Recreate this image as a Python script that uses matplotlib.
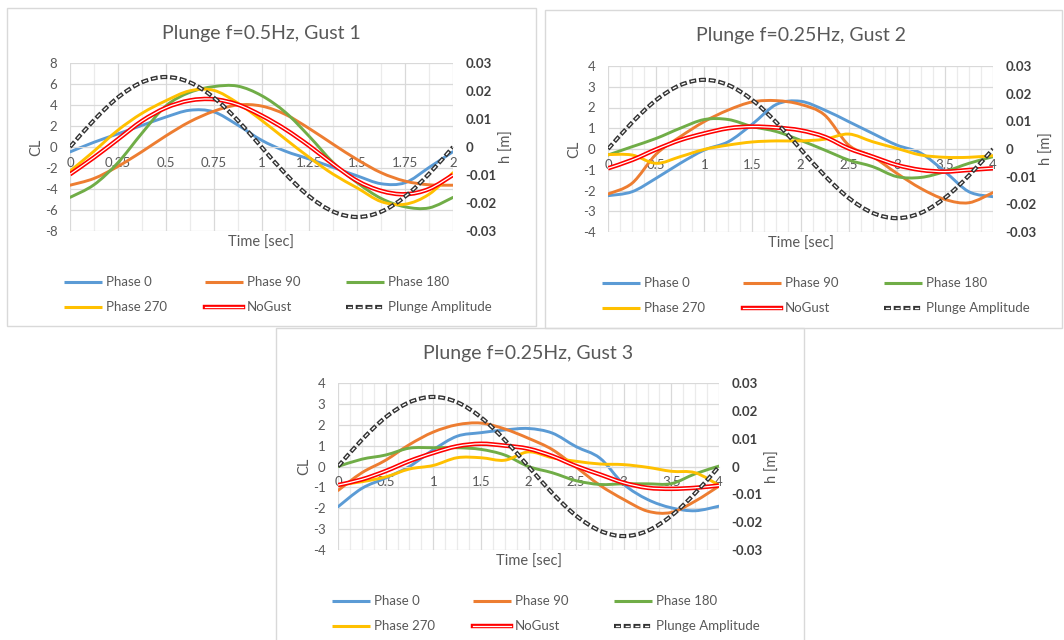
import numpy as np
import matplotlib
matplotlib.use('Agg')
import matplotlib.pyplot as plt
from matplotlib.path import Path
from matplotlib.patches import PathPatch, Rectangle
from matplotlib.lines import Line2D

plt.rcParams['font.family'] = ['Lato', 'DejaVu Sans']
plt.rcParams['lines.scale_dashes'] = False

W, H = 1064, 640

series_noms = ['Phase 0', 'Phase 90', 'Phase 180', 'Phase 270', 'NoGust', 'Plunge Amplitude']

# Gust 1 : pas de 0.125 s
t_g1 = [0, 0.125, 0.25, 0.375, 0.5, 0.625, 0.75, 0.875, 1.0,
        1.125, 1.25, 1.375, 1.5, 1.625, 1.75, 1.875, 2.0]
g1_phase0 = [-0.47, 0.45, 1.25, 2.05, 2.85, 3.5, 3.35, 2.1, 0.65, -0.4, -1.15, -1.95, -2.75, -3.5, -3.4, -1.95, -0.44]
g1_phase90 = [-3.64, -3.0, -1.85, -0.45, 1.05, 2.4, 3.4, 4.0, 3.9, 3.1, 1.75, 0.25, -1.2, -2.45, -3.25, -3.6, -3.64]
g1_phase180 = [-4.8, -3.6, -1.5, 1.3, 3.9, 5.2, 5.75, 5.8, 4.9, 3.3, 1.0, -1.5, -3.4, -4.9, -5.7, -5.8, -4.8]
g1_phase270 = [-2.3, -0.4, 1.6, 3.2, 4.4, 5.35, 5.4, 4.2, 2.55, 0.75, -1.0, -2.6, -3.9, -5.2, -5.45, -4.5, -2.45]
g1_nogust = [-2.6, -1.0, 0.73, 2.47, 3.73, 4.43, 4.55, 4.05, 3.0, 1.68, 0.1, -1.65, -3.23, -4.18, -4.5, -4.0, -2.66]
g1_plunge = [0, 0.00957, 0.01768, 0.0231, 0.025, 0.0231, 0.01768, 0.00957, 0,
             -0.00957, -0.01768, -0.0231, -0.025, -0.0231, -0.01768, -0.00957, 0]

# Gust 2 et 3 : pas de 0.25 s
t_g23 = [0, 0.25, 0.5, 0.75, 1.0, 1.25, 1.5, 1.75, 2.0,
         2.25, 2.5, 2.75, 3.0, 3.25, 3.5, 3.75, 4.0]
g2_phase0 = [-2.25, -2.06, -1.41, -0.69, -0.05, 0.35, 1.2, 2.15, 2.3, 1.88, 1.32, 0.75, 0.19, -0.2, -1.09, -2.06, -2.3]
g2_phase90 = [-2.17, -1.65, -0.25, 0.59, 1.32, 1.88, 2.27, 2.33, 2.15, 1.64, 0.19, -0.37, -1.17, -1.9, -2.43, -2.59, -2.1]
g2_phase180 = [-0.29, 0.11, 0.51, 1.0, 1.42, 1.42, 1.08, 0.84, 0.42, -0.05, -0.53, -0.85, -1.33, -1.37, -1.09, -0.69, -0.37]
g2_phase270 = [-0.27, -0.29, -0.69, -0.37, -0.02, 0.19, 0.34, 0.39, 0.39, 0.47, 0.72, 0.35, 0.03, -0.29, -0.4, -0.4, -0.32]
g2_nogust = [-0.93, -0.53, -0.02, 0.43, 0.75, 1.0, 1.08, 1.03, 0.9, 0.59, 0.03, -0.37, -0.77, -1.01, -1.09, -1.01, -0.93]
g2_plunge = [0, 0.00957, 0.01768, 0.0231, 0.025, 0.0231, 0.01768, 0.00957, 0,
             -0.00957, -0.01768, -0.0231, -0.025, -0.0231, -0.01768, -0.00957, 0]

g3_phase0 = [-1.93, -1.05, -0.55, 0.0, 0.8, 1.45, 1.62, 1.75, 1.82, 1.6, 0.95, 0.4, -0.85, -1.58, -1.98, -2.12, -1.9]
g3_phase90 = [-1.15, -0.3, 0.3, 1.05, 1.65, 2.0, 2.08, 1.8, 1.35, 0.81, -0.03, -0.9, -1.58, -2.14, -2.2, -1.66, -0.94]
g3_phase180 = [0.0, 0.35, 0.55, 0.88, 0.9, 0.9, 0.82, 0.55, 0.0, -0.3, -0.68, -0.86, -0.83, -0.83, -0.82, -0.35, 0.02]
g3_phase270 = [-0.89, -0.73, -0.5, -0.12, 0.05, 0.42, 0.42, 0.3, 0.7, 0.42, 0.25, 0.12, 0.09, -0.04, -0.23, -0.3, -0.9]
g3_nogust = [-0.89, -0.62, -0.22, 0.26, 0.65, 0.97, 1.09, 1.0, 0.85, 0.5, 0.02, -0.38, -0.78, -1.02, -1.07, -1.02, -0.91]
g3_plunge = [0, 0.00957, 0.01768, 0.0231, 0.025, 0.0231, 0.01768, 0.00957, 0,
             -0.00957, -0.01768, -0.0231, -0.025, -0.0231, -0.01768, -0.00957, 0]

x_ticks_g1 = [0, 0.25, 0.5, 0.75, 1, 1.25, 1.5, 1.75, 2]
x_labels_g1 = ['0', '0.25', '0.5', '0.75', '1', '1.25', '1.5', '1.75', '2']
x_ticks_g23 = [0, 0.5, 1, 1.5, 2, 2.5, 3, 3.5, 4]
x_labels_g23 = ['0', '0.5', '1', '1.5', '2', '2.5', '3', '3.5', '4']
y_ticks_g1 = [-8, -6, -4, -2, 0, 2, 4, 6, 8]
y_ticks_g23 = [-4, -3, -2, -1, 0, 1, 2, 3, 4]
h_ticks = [-0.03, -0.02, -0.01, 0, 0.01, 0.02, 0.03]
h_labels = ['-0.03', '-0.02', '-0.01', '0', '0.01', '0.02', '0.03']

couleurs = ['#5B9BD5', '#ED7D31', '#70AD47', '#FFC000']
gris_texte = '#595959'
gris_grille = '#D9D9D9'

fig = plt.figure(figsize=(W / 100, H / 100), dpi=100)


def pos_px(x, y):
    return x / W, 1 - y / H


def courbe_lisse(x, y):
    # courbe lissee a la maniere d'Excel (Catmull-Rom -> Bezier)
    pts = np.column_stack([x, y]).astype(float)
    n = len(pts)
    verts = [pts[0]]
    codes = [Path.MOVETO]
    for i in range(n - 1):
        p0 = pts[max(i - 1, 0)]
        p1 = pts[i]
        p2 = pts[i + 1]
        p3 = pts[min(i + 2, n - 1)]
        verts += [p1 + (p2 - p0) / 6, p2 - (p3 - p1) / 6, p2]
        codes += [Path.CURVE4] * 3
    return Path(verts, codes)


def cadre(x0, y0, x1, y1):
    fx, fy = pos_px(x0, y1)
    fig.patches.append(Rectangle((fx, fy), (x1 - x0) / W, (y1 - y0) / H, transform=fig.transFigure,
                                 fill=False, edgecolor=gris_grille, lw=1, zorder=0))


def ligne_legende(x0, x1, y, style):
    fx0, fy = pos_px(x0, y)
    fx1, _ = pos_px(x1, y)
    if style == 'double':
        fig.add_artist(Line2D([fx0, fx1], [fy, fy], color='#FF0000', lw=3.2, transform=fig.transFigure))
        fig.add_artist(Line2D([fx0, fx1], [fy, fy], color='white', lw=0.9, transform=fig.transFigure))
    elif style == 'tirets':
        fig.add_artist(Line2D([fx0, fx1], [fy, fy], color='#333333', lw=3, transform=fig.transFigure,
                              linestyle=(0, (5, 2)), dash_capstyle='butt'))
        fig.add_artist(Line2D([fx0, fx1], [fy, fy], color='white', lw=1, transform=fig.transFigure,
                              linestyle=(6, (3, 4)), dash_capstyle='butt'))
    else:
        fig.add_artist(Line2D([fx0, fx1], [fy, fy], color=style, lw=2.2, transform=fig.transFigure,
                              solid_capstyle='butt'))


def panneau(rect, titre, t, cl_series, plunge, xlim, ylim, xticks, xlabels, yticks, x_minor):
    x0, y0, x1, y1 = rect
    ax = fig.add_axes([x0 / W, 1 - y1 / H, (x1 - x0) / W, (y1 - y0) / H])
    ax.set_xlim(*xlim)
    ax.set_ylim(*ylim)
    ax.set_xticks(xticks)
    ax.set_xticklabels(xlabels)
    ax.set_xticks(np.arange(xlim[0], xlim[1] + 1e-9, x_minor), minor=True)
    ax.set_yticks(yticks)
    ax.set_yticklabels([str(v) for v in yticks])
    ax.grid(True, which='major', color=gris_grille, lw=0.9)
    ax.grid(True, which='minor', axis='x', color='#EBEBEB', lw=0.9)
    ax.set_axisbelow(True)
    for s in ['top', 'left', 'right']:
        ax.spines[s].set_visible(False)
    ax.spines['bottom'].set_position(('data', 0))
    ax.spines['bottom'].set_color(gris_grille)
    ax.tick_params(axis='both', which='both', length=0, labelsize=9.5, labelcolor=gris_texte)
    ax.tick_params(axis='x', pad=7)
    ax.tick_params(axis='y', pad=9)

    for i, y in enumerate(cl_series[:4]):
        ax.add_patch(PathPatch(courbe_lisse(t, y), fill=False, edgecolor=couleurs[i], lw=2.1,
                               capstyle='round', joinstyle='round', zorder=2 + i))
    chemin_ng = courbe_lisse(t, cl_series[4])
    ax.add_patch(PathPatch(chemin_ng, fill=False, edgecolor='#FF0000', lw=3.2, zorder=7))
    ax.add_patch(PathPatch(chemin_ng, fill=False, edgecolor='white', lw=0.9, zorder=8))

    ax2 = ax.twinx()
    ax2.set_ylim(-0.03, 0.03)
    ax2.set_yticks(h_ticks)
    ax2.set_yticklabels(h_labels)
    for s in ax2.spines.values():
        s.set_visible(False)
    ax2.tick_params(axis='y', length=0, labelsize=9.5, labelcolor='#404040', pad=9)
    for lab in ax2.get_yticklabels():
        lab.set_fontweight('bold')
    chemin_h = courbe_lisse(t, plunge)
    ax2.add_patch(PathPatch(chemin_h, fill=False, edgecolor='#333333', lw=3,
                            linestyle=(0, (5, 2)), capstyle='butt'))
    ax2.add_patch(PathPatch(chemin_h, fill=False, edgecolor='white', lw=1,
                            linestyle=(6, (3, 4)), capstyle='butt'))

    # textes
    cx = (x0 + x1) / 2
    fx, fy = pos_px(cx, y0 - 30)
    fig.text(fx, fy, titre, ha='center', va='center', fontsize=14, color=gris_texte)
    fx, fy = pos_px(cx, y1 + 12)
    fig.text(fx, fy, 'Time [sec]', ha='center', va='center', fontsize=10.5, color=gris_texte)
    fx, fy = pos_px(x0 - 34, (y0 + y1) / 2)
    fig.text(fx, fy, 'CL', ha='center', va='center', rotation=90, fontsize=10.5, color=gris_texte)
    fx, fy = pos_px(x1 + 54, (y0 + y1) / 2)
    fig.text(fx, fy, 'h [m]', ha='center', va='center', rotation=90, fontsize=10.5, color=gris_texte)

    # legende sur deux lignes
    styles = couleurs + ['double', 'tirets']
    for k, nom in enumerate(series_noms):
        ligne = k // 3
        col = k % 3
        lx = x0 - 6 + col * 141
        ly = y1 + 51 + ligne * 25
        ligne_legende(lx, lx + 38, ly, styles[k])
        fx, fy = pos_px(lx + 42, ly)
        fig.text(fx, fy, nom, ha='left', va='center', fontsize=9.5, color=gris_texte)
    return ax


cadre(7, 8, 536, 326)
cadre(545, 10, 1062, 328)
cadre(276, 328, 804, 660)

panneau((70, 63, 453, 231), 'Plunge f=0.5Hz, Gust 1', t_g1,
        [g1_phase0, g1_phase90, g1_phase180, g1_phase270, g1_nogust], g1_plunge,
        (0, 2), (-8, 8), x_ticks_g1, x_labels_g1, y_ticks_g1, 0.125)
panneau((608, 66, 993, 232), 'Plunge f=0.25Hz, Gust 2', t_g23,
        [g2_phase0, g2_phase90, g2_phase180, g2_phase270, g2_nogust], g2_plunge,
        (0, 4), (-4, 4), x_ticks_g23, x_labels_g23, y_ticks_g23, 0.125)
panneau((338, 383, 719, 550), 'Plunge f=0.25Hz, Gust 3', t_g23,
        [g3_phase0, g3_phase90, g3_phase180, g3_phase270, g3_nogust], g3_plunge,
        (0, 4), (-4, 4), x_ticks_g23, x_labels_g23, y_ticks_g23, 0.125)

fig.savefig('out.png', dpi=100, facecolor='white')
